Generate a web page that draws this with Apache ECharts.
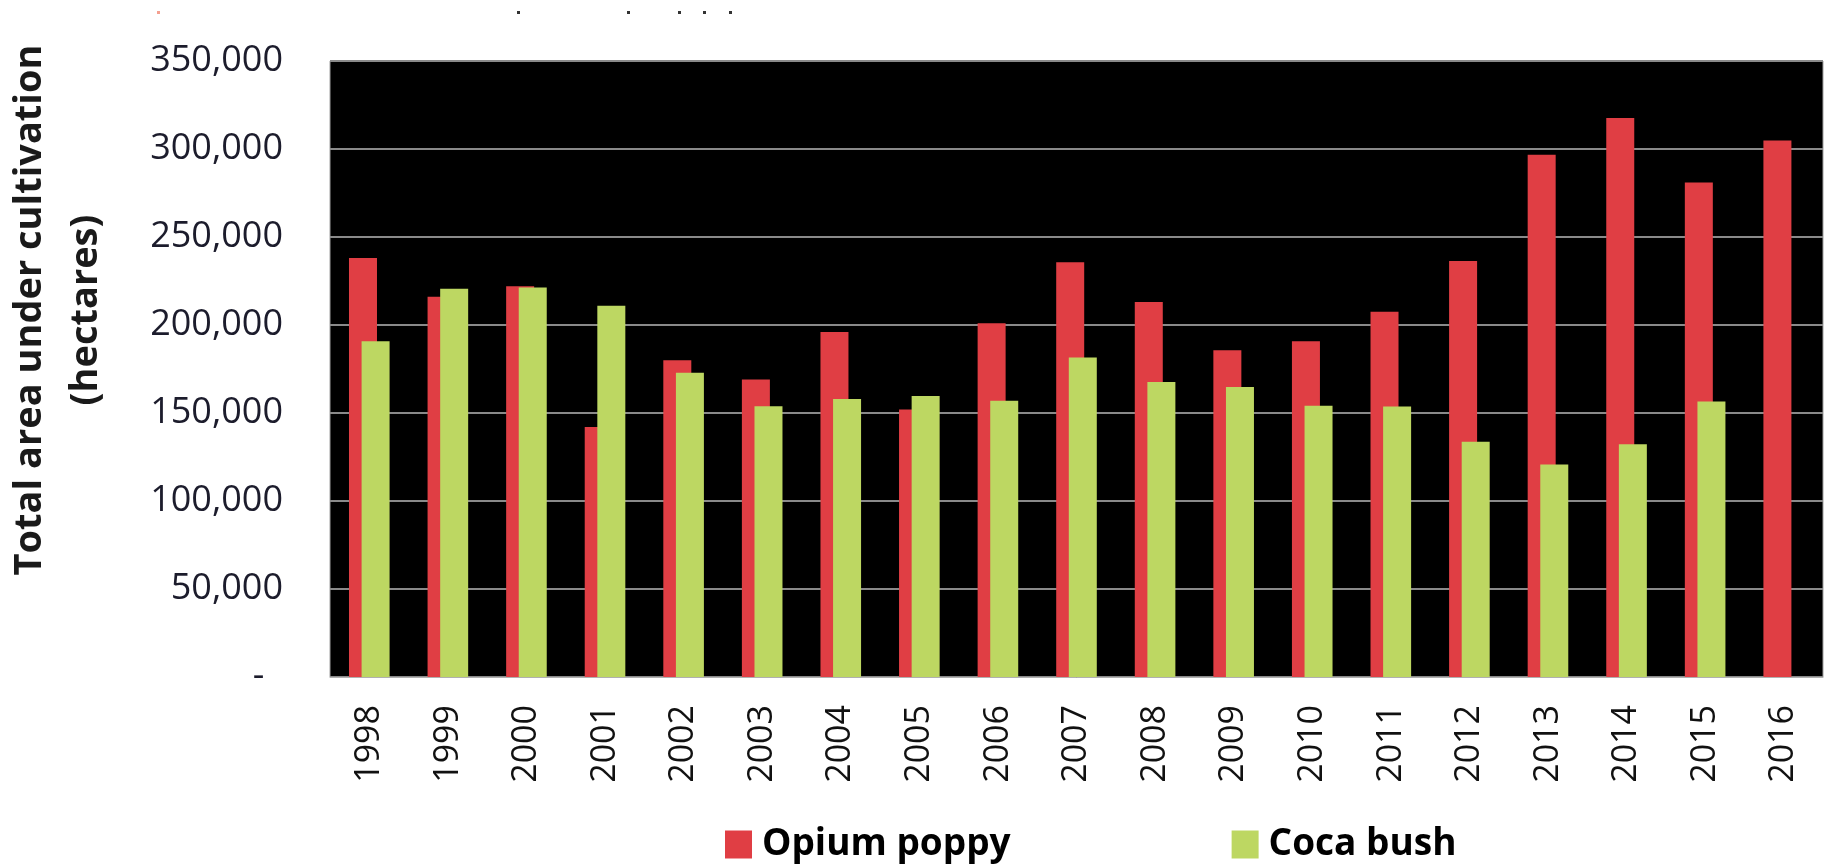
<!DOCTYPE html>
<html>
<head>
<meta charset="utf-8">
<script src="https://cdn.jsdelivr.net/npm/echarts@6/dist/echarts.min.js"></script>
<style>
html,body{margin:0;padding:0;background:#fff;}
#chart{width:1827px;height:864px;}
</style>
</head>
<body>
<div id="chart"></div>
<script>
const years = ['1998','1999','2000','2001','2002','2003','2004','2005','2006','2007','2008','2009','2010','2011','2012','2013','2014','2015','2016'];
const opiumPoppy = [238000,216000,222000,142000,180000,169000,196000,152000,201000,235700,213000,185700,190700,207500,236300,296700,317600,281000,304800];
const cocaBush = [190800,220600,221300,210900,172800,153800,158000,159600,156900,181600,167600,164800,154100,153700,133700,120800,132300,156500,null];
const seriesNames = ['Opium poppy','Coca bush'];
const yTicks = {min:0, max:350000, interval:50000};

const chart = echarts.init(document.getElementById('chart'));
const fmt = v => v === 0 ? '-  ' : v.toLocaleString('en-US');
const dot = (x, c) => ({type:'rect', shape:{x:x, y:11, width:3, height:3}, style:{fill:c}});
chart.setOption({
  animation:false,
  backgroundColor:'#fff',
  grid:{left:330,right:4,top:61,bottom:187,show:true,backgroundColor:'#000',borderColor:'#a0a0a0',borderWidth:1},
  legend:{
    data:seriesNames, left:720, top:821, itemWidth:27, itemHeight:28, itemGap:221,
    icon:'rect',
    textStyle:{fontFamily:'Open Sans',fontWeight:'bold',fontSize:37,color:'#000',padding:[0,0,0,5],lineHeight:30}
  },
  graphic:[{
    type:'text', x:58, y:310, rotation:Math.PI/2,
    style:{text:'Total area under cultivation\n(hectares)', fontFamily:'Open Sans', fontWeight:'bold', fontSize:38, lineHeight:56, fill:'#1a1a1a', textAlign:'center', textVerticalAlign:'middle'}
  },
  dot(157,'#f4a090'), dot(517,'#333'), dot(627,'#333'), dot(678,'#333'), dot(703,'#333'), dot(729,'#333')
  ],
  xAxis:{
    type:'category', data:years,
    axisLine:{show:true,lineStyle:{color:'#b0b0b0',width:1}},
    axisTick:{show:false},
    axisLabel:{rotate:90, margin:28, fontFamily:'Open Sans', fontSize:34, color:'#111', interval:0}
  },
  yAxis:{
    type:'value', min:yTicks.min, max:yTicks.max, interval:yTicks.interval,
    axisLine:{show:false}, axisTick:{show:false},
    axisLabel:{formatter:fmt, margin:47, fontFamily:'Open Sans', fontSize:36, color:'#1c1c2c'},
    splitLine:{show:true,lineStyle:{color:'#8a8a8a',width:2}}
  },
  series:[
    {name:seriesNames[0], type:'bar', data:opiumPoppy, barWidth:28, barGap:'-55%', itemStyle:{color:'#E03E44'}},
    {name:seriesNames[1], type:'bar', data:cocaBush, barWidth:28, itemStyle:{color:'#BDD762'}}
  ]
});
</script>
</body>
</html>
